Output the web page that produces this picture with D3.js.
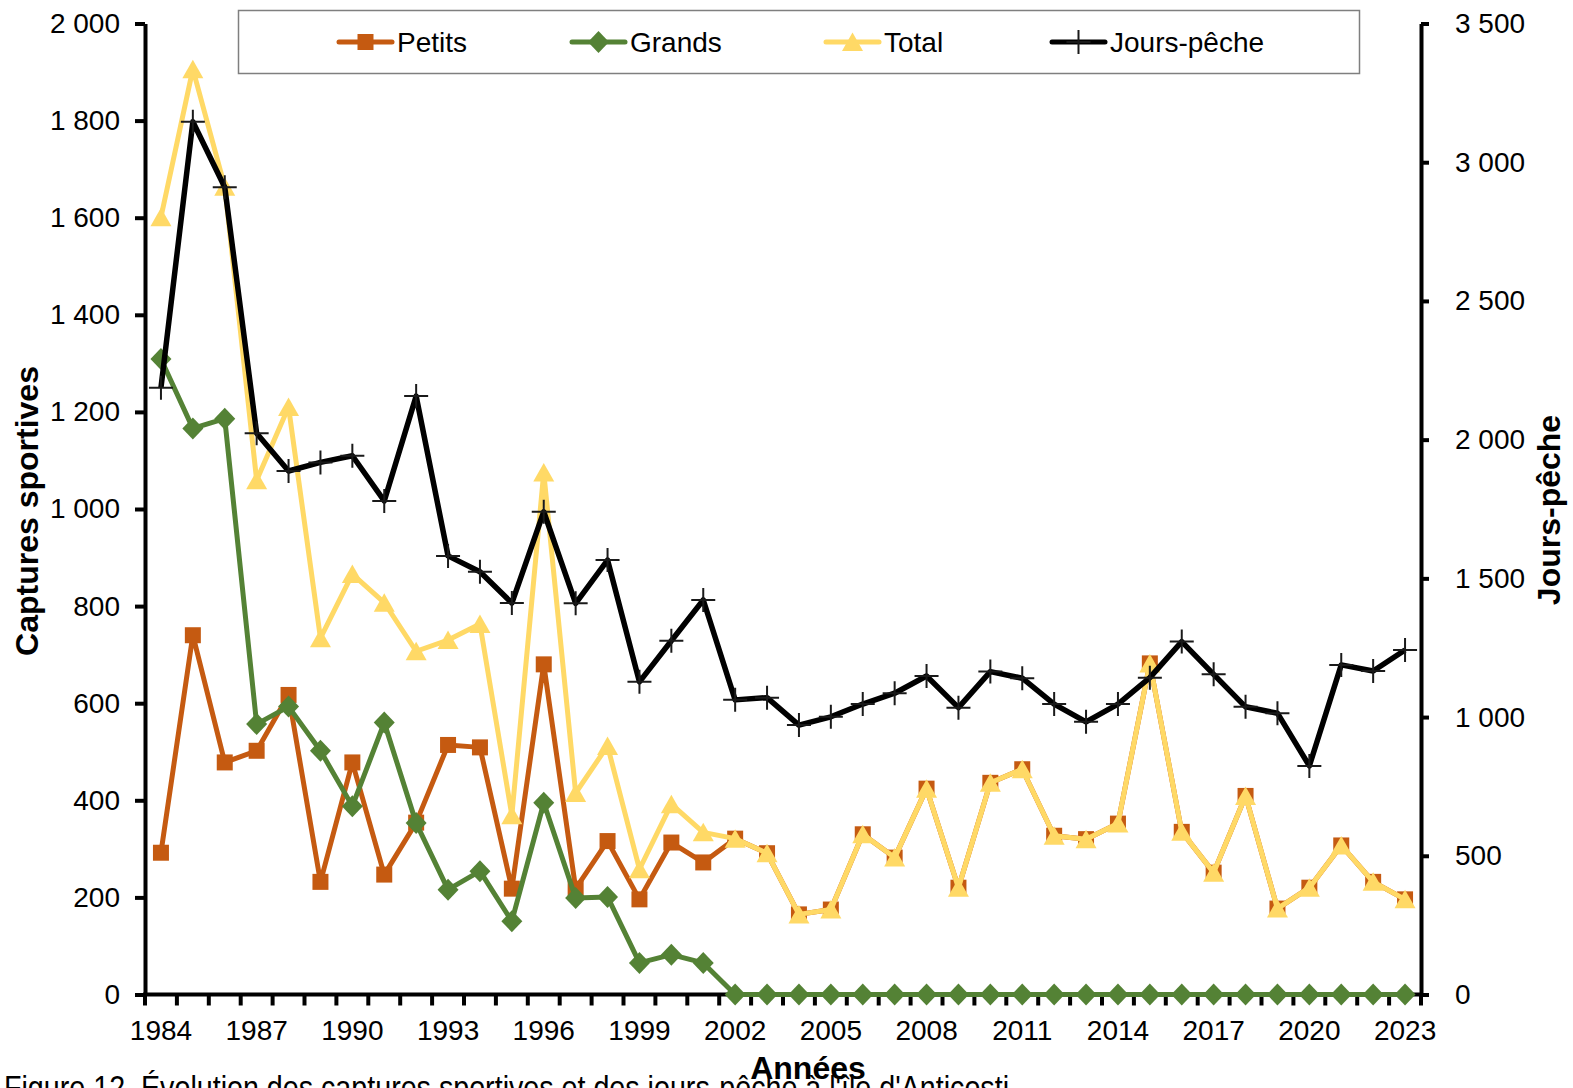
<!DOCTYPE html>
<html><head><meta charset="utf-8">
<script src="https://cdn.jsdelivr.net/npm/d3@7"></script>
<style>
body{margin:0;background:#fff;overflow:hidden}
text{font-family:"Liberation Sans",Arial,Helvetica,sans-serif;fill:#000}
</style>
</head><body>
<svg id="c" width="1573" height="1088"></svg>
<script>
const years = [1984,1985,1986,1987,1988,1989,1990,1991,1992,1993,1994,1995,1996,1997,1998,1999,2000,2001,2002,2003,2004,2005,2006,2007,2008,2009,2010,2011,2012,2013,2014,2015,2016,2017,2018,2019,2020,2021,2022,2023];
const petits = [292,740,478,502,617,232,478,247,354,514,509,218,680,218,316,196,313,272,321,291,165,175,330,282,424,220,436,464,327,320,352,682,335,251,409,177,220,307,232,196];
const grands = [1309,1166,1186,557,593,502,388,560,353,216,254,151,395,199,201,65,82,65,0,0,0,0,0,0,0,0,0,0,0,0,0,0,0,0,0,0,0,0,0,0];
const total = [1601,1906,1664,1059,1210,734,866,807,707,730,763,369,1075,415,512,258,392,334,321,291,165,175,330,282,424,220,436,464,327,320,352,682,335,251,409,177,220,307,232,196];
const joursPeche = [2187,3146,2910,2023,1887,1918,1942,1779,2157,1581,1524,1411,1740,1410,1566,1127,1275,1422,1062,1070,971,1001,1047,1086,1148,1034,1164,1140,1047,983,1047,1142,1272,1154,1037,1014,824,1188,1166,1242];
const leftTicks = [0,200,400,600,800,1000,1200,1400,1600,1800,2000];
const rightTicks = [0,500,1000,1500,2000,2500,3000,3500];
const xTickLabels = [1984,1987,1990,1993,1996,1999,2002,2005,2008,2011,2014,2017,2020,2023];
const seriesNames = ["Petits","Grands","Total","Jours-pêche"];
const leftTitle = "Captures sportives";
const rightTitle = "Jours-pêche";
const xTitle = "Années";
const caption = "Figure 12. Évolution des captures sportives et des jours-pêche à l'île d'Anticosti";

const C = {petits:"#C55A11", grands:"#548235", total:"#FFD966", jours:"#000000"};
const svg = d3.select("#c");
const X0 = 145, X1 = 1421, Y0 = 994.5, Y1 = 23.5;
const x = d3.scaleBand().domain(years).range([X0, X1]);
const cx = d => x(d) + x.bandwidth()/2;
const yL = d3.scaleLinear().domain([0,2000]).range([Y0,Y1]);
const yR = d3.scaleLinear().domain([0,3500]).range([Y0,Y1]);
const fmt = d => d3.format(",")(d).replace(",", "\u00a0");

// axes
const gL = svg.append("g").attr("transform",`translate(${X0},0)`)
  .call(d3.axisLeft(yL).tickValues(leftTicks).tickFormat(fmt).tickSize(10).tickSizeOuter(0).tickPadding(15));
const gR = svg.append("g").attr("transform",`translate(${X1},0)`)
  .call(d3.axisRight(yR).tickValues(rightTicks).tickFormat(fmt).tickSize(8).tickSizeOuter(0).tickPadding(26));
const gB = svg.append("g").attr("transform",`translate(0,${Y0})`)
  .call(d3.axisBottom(x).tickValues(xTickLabels).tickSize(0).tickPadding(26));
// category boundary tick marks
const edges = years.map(d => x(d)).concat([X1]);
gB.selectAll("line.edge").data(edges).enter().append("line").attr("class","edge")
  .attr("x1",d=>d).attr("x2",d=>d).attr("y1",0).attr("y2",11)
  .attr("stroke","#000").attr("stroke-width",4);
[gL,gR,gB].forEach(g=>{
  g.select(".domain").attr("stroke","#000").attr("stroke-width",4);
  g.selectAll(".tick line").attr("stroke","#000").attr("stroke-width",4);
  g.selectAll(".tick text").style("font-size","28px").style("font-family",'"Liberation Sans",Arial,sans-serif').attr("fill","#000");
});
gB.select(".domain").attr("d",`M${X0-2},0H${X1+2}`);

// markers
const sq = "M-8,-8H8V8H-8Z";
const dia = "M0,-11L10.5,0L0,11L-10.5,0Z";
const tri = "M0,-9.5L10.5,9L-10.5,9Z";
const plus = "M-12,0H12M0,-12V12";

function drawSeries(vals, scale, color, width, markerPath, markerFill, markerStroke, markerSW){
  const pts = vals.map((v,i)=>[cx(years[i]), scale(v)]);
  svg.append("path").attr("d", d3.line()(pts)).attr("fill","none")
    .attr("stroke",color).attr("stroke-width",width).attr("stroke-linejoin","round");
  svg.append("g").selectAll("path").data(pts).enter().append("path")
    .attr("d",markerPath).attr("transform",d=>`translate(${d[0]},${d[1]})`)
    .attr("fill",markerFill).attr("stroke",markerStroke).attr("stroke-width",markerSW);
}
drawSeries(petits, yL, C.petits, 5, sq, C.petits, "none", 0);
drawSeries(grands, yL, C.grands, 5, dia, C.grands, "none", 0);
drawSeries(total, yL, C.total, 5, tri, C.total, "none", 0);
drawSeries(joursPeche, yR, C.jours, 5.5, plus, "none", "#1a1a1a", 2);

// legend
svg.append("rect").attr("x",238.5).attr("y",10.5).attr("width",1121).attr("height",63)
  .attr("fill","#fff").attr("stroke","#7f7f7f").attr("stroke-width",1.5);
const leg = [
  {name:seriesNames[0], x:339, color:C.petits, m:sq, f:C.petits, s:"none", sw:0},
  {name:seriesNames[1], x:572, color:C.grands, m:dia, f:C.grands, s:"none", sw:0},
  {name:seriesNames[2], x:826, color:C.total, m:tri, f:C.total, s:"none", sw:0},
  {name:seriesNames[3], x:1052, color:C.jours, m:plus, f:"none", s:"#1a1a1a", sw:2}
];
const lg = svg.append("g").selectAll("g").data(leg).enter().append("g");
lg.append("line").attr("x1",d=>d.x).attr("x2",d=>d.x+53).attr("y1",42).attr("y2",42)
  .attr("stroke",d=>d.color).attr("stroke-width",5).attr("stroke-linecap","round");
lg.append("path").attr("d",d=>d.m).attr("transform",d=>`translate(${d.x+26.5},42)`)
  .attr("fill",d=>d.f).attr("stroke",d=>d.s).attr("stroke-width",d=>d.sw);
lg.append("text").attr("x",d=>d.x+58).attr("y",52).style("font-size","28px").text(d=>d.name);

// titles
svg.append("text").attr("transform","translate(38,511) rotate(-90)").attr("text-anchor","middle")
  .style("font-size","32px").style("font-weight","bold").text(leftTitle);
svg.append("text").attr("transform","translate(1560,510) rotate(-90)").attr("text-anchor","middle")
  .style("font-size","32px").style("font-weight","bold").text(rightTitle);
svg.append("text").attr("x",4).attr("y",1099).style("font-size","34px")
  .attr("textLength",1005).attr("lengthAdjust","spacingAndGlyphs").text(caption);
svg.append("text").attr("x",808).attr("y",1079).attr("text-anchor","middle")
  .style("font-size","32px").style("font-weight","bold").text(xTitle);
</script>
</body></html>
